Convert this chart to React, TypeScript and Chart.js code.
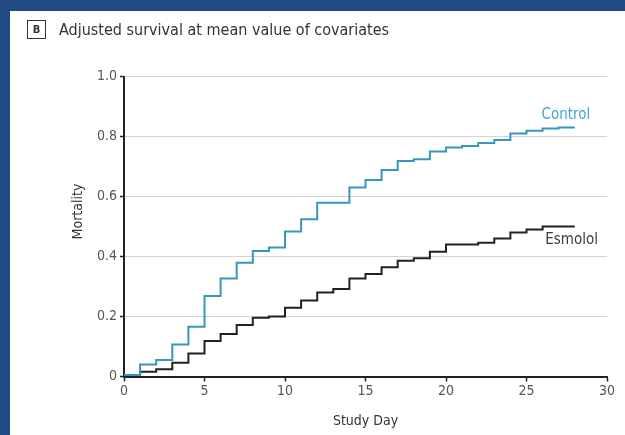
import React, { useEffect, useRef } from "react";
import { Chart, registerables } from "chart.js";

Chart.register(...registerables);

// ---- data ----
const studyDays = [0, 1, 2, 3, 4, 5, 6, 7, 8, 9, 10, 11, 12, 13, 14, 15, 16, 17, 18, 19, 20, 21, 22, 23, 24, 25, 26, 27, 28];
const controlMortality = [0.005, 0.04, 0.055, 0.107, 0.166, 0.268, 0.327, 0.379, 0.418, 0.43, 0.483, 0.524, 0.579, 0.579, 0.63, 0.655, 0.688, 0.718, 0.724, 0.75, 0.763, 0.768, 0.778, 0.788, 0.81, 0.819, 0.827, 0.83, 0.83];
const esmololMortality = [0.005, 0.016, 0.024, 0.046, 0.077, 0.118, 0.142, 0.172, 0.196, 0.2, 0.229, 0.253, 0.28, 0.292, 0.327, 0.342, 0.364, 0.386, 0.394, 0.416, 0.44, 0.44, 0.446, 0.46, 0.48, 0.49, 0.5, 0.5, 0.5];
const seriesNames = ["Control", "Esmolol"];
const seriesColors = ["#3597bd", "#222222"];
const labelColors = ["#3fa5d4", "#3a3a3a"];
// label anchor in data units [day, mortality]
const labelAnchors = [[27.45, 0.872], [27.8, 0.455]];
const xTickValues = [0, 5, 10, 15, 20, 25, 30];
const yTickValues = [0, 0.2, 0.4, 0.6, 0.8, 1.0];
const panelTitle = "Adjusted survival at mean value of covariates";
const panelLetter = "B";
const xAxisTitle = "Study Day";
const yAxisTitle = "Mortality";

const FONT = "'DejaVu Sans Condensed', 'Liberation Sans Narrow', 'DejaVu Sans', sans-serif";

const labelPlugin = {
  id: "seriesLabels",
  afterDatasetsDraw(chart: any) {
    const { ctx, scales, chartArea } = chart;
    const x = scales.x;
    const y = scales.y;
    ctx.save();
    ctx.font = `15px ${FONT}`;
    ctx.textAlign = "center";
    ctx.textBaseline = "middle";
    seriesNames.forEach((name, i) => {
      ctx.fillStyle = labelColors[i];
      ctx.fillText(name, x.getPixelForValue(labelAnchors[i][0]), y.getPixelForValue(labelAnchors[i][1]));
    });
    // y axis title
    ctx.translate(chartArea.left - 46, (chartArea.top + chartArea.bottom) / 2 - 15);
    ctx.rotate(-Math.PI / 2);
    ctx.fillStyle = "#333";
    ctx.font = `14px ${FONT}`;
    ctx.fillText(yAxisTitle, 0, 0);
    ctx.restore();
  },
};

export default function App() {
  const canvasRef = useRef<HTMLCanvasElement | null>(null);

  useEffect(() => {
    const canvas = canvasRef.current;
    if (!canvas) return;
    const chart = new Chart(canvas, {
      type: "line",
      data: {
        datasets: [
          {
            label: seriesNames[0],
            data: studyDays.map((d, i) => ({ x: d, y: controlMortality[i] })),
            borderColor: seriesColors[0],
            borderWidth: 2,
            stepped: true,
            pointRadius: 0,
            fill: false,
          },
          {
            label: seriesNames[1],
            data: studyDays.map((d, i) => ({ x: d, y: esmololMortality[i] })),
            borderColor: seriesColors[1],
            borderWidth: 2,
            stepped: true,
            pointRadius: 0,
            fill: false,
          },
        ],
      },
      options: {
        responsive: false,
        animation: false,
        layout: { padding: { left: 10, top: 76.5, right: 18, bottom: 0 } },
        plugins: { legend: { display: false }, tooltip: { enabled: false }, title: { display: false } },
        scales: {
          x: {
            type: "linear",
            min: 0,
            max: 30,
            afterBuildTicks: (s: any) => {
              s.ticks = xTickValues.map((v) => ({ value: v }));
            },
            ticks: { font: { family: FONT, size: 14 }, color: "#555", padding: 1, maxRotation: 0 },
            grid: { drawOnChartArea: false, drawTicks: true, tickLength: 5, tickColor: "#222", tickWidth: 1.5 },
            border: { color: "#222", width: 2 },
            title: { display: true, text: xAxisTitle, font: { family: FONT, size: 14 }, color: "#333", padding: { top: 0, bottom: 5 } },
            afterFit: (s: any) => {
              s.height = 58.5;
            },
          },
          y: {
            type: "linear",
            min: 0,
            max: 1,
            afterBuildTicks: (s: any) => {
              s.ticks = yTickValues.map((v) => ({ value: v }));
            },
            ticks: {
              font: { family: FONT, size: 14 },
              color: "#555",
              padding: 3,
              callback: (v: any) => (Number(v) === 0 ? "0" : Number(v).toFixed(1)),
            },
            grid: { color: "#d4d4d4", lineWidth: 1, drawTicks: true, tickLength: 4, tickColor: "#222", tickWidth: 1.5 },
            border: { color: "#222", width: 2 },
            afterFit: (s: any) => {
              s.width = 114;
            },
          },
        },
      },
      plugins: [labelPlugin],
    } as any);
    return () => chart.destroy();
  }, []);

  return (
    <div style={{ position: "fixed", left: 0, top: 0, width: 625, height: 435, background: "#1f4b82", overflow: "hidden" }}>
      <div style={{ position: "absolute", left: 10, top: 11, right: 0, bottom: 0, background: "#fff" }} />
      <canvas ref={canvasRef} width={625} height={435} style={{ position: "absolute", left: 0, top: 0, width: 625, height: 435 }} />
      <div style={{ position: "absolute", left: 27, top: 20, display: "flex", alignItems: "center", fontFamily: FONT, color: "#333" }}>
        <div
          style={{
            width: 17,
            height: 17,
            border: "1.5px solid #333",
            display: "flex",
            alignItems: "center",
            justifyContent: "center",
            fontSize: 11,
            fontWeight: "bold",
          }}
        >
          {panelLetter}
        </div>
        <div style={{ marginLeft: 13, fontSize: 16, whiteSpace: "nowrap" }}>{panelTitle}</div>
      </div>
    </div>
  );
}
